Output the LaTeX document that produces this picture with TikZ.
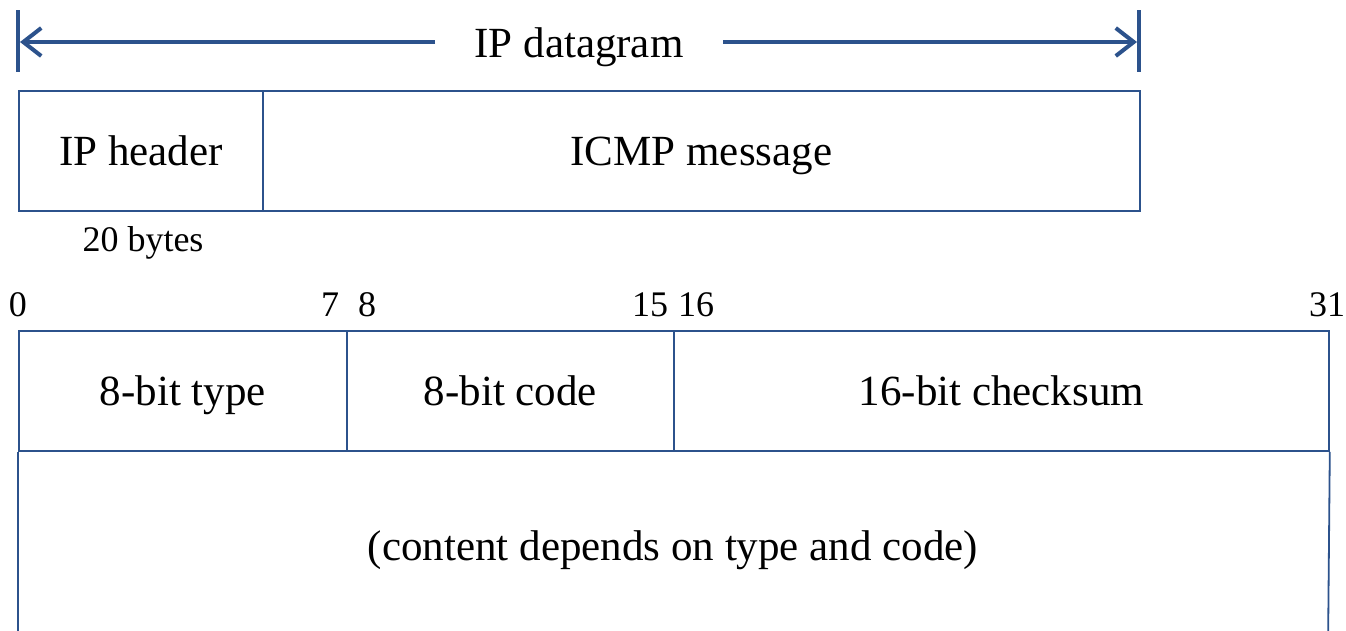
\documentclass[tikz,border=0pt]{standalone}
\usepackage{fontspec}
\setmainfont{Liberation Serif}
\usetikzlibrary{arrows.meta}
\definecolor{lineblue}{RGB}{44,82,140}
\begin{document}
\begin{tikzpicture}[x=1pt,y=-1pt,
  field/.style={draw=lineblue, line width=1.8pt, inner sep=0pt, anchor=north west,
    text height=38pt, text depth=8pt,
    font=\fontsize{43}{50}\selectfont},
  biglabel/.style={inner sep=0pt, font=\fontsize{43}{50}\selectfont},
  smalllabel/.style={inner sep=0pt, anchor=base, font=\fontsize{36}{42}\selectfont},
  bar/.style={draw=lineblue, line width=4pt},
  sideline/.style={draw=lineblue, line width=1.8pt},
  dimarrow/.style={draw=lineblue, line width=4pt, -{Straight Barb[length=18pt,width=28pt,line width=4pt]}}
]
\clip (0,0) rectangle (1346,630);
\fill[white] (0,0) rectangle (1346,630);
% top dimension
\coordinate (lt) at (18,10); \coordinate (lb) at (18,72);
\coordinate (rt) at (1139,10); \coordinate (rb) at (1139,72);
\draw[bar] (lt) -- (lb);
\draw[bar] (rt) -- (rb);
\node[biglabel, anchor=base] (dg) at (579,57) {IP datagram};
\coordinate (la) at (435,42); \coordinate (ra) at (723,42);
\coordinate (L) at (20,42); \coordinate (R) at (1137,42);
\draw[dimarrow] (la) -- (L);
\draw[dimarrow] (ra) -- (R);
% IP datagram boxes
\node[field, minimum width=244pt, minimum height=120pt] (hdr) at (18,90) {IP header};
\node[field, minimum width=877pt, minimum height=120pt] (msg) at (262,90) {ICMP message};
\node[smalllabel] (bytes) at (143,251) {20 bytes};
% bit numbers
\node[smalllabel] (b0) at (18,316) {0};
\node[smalllabel] (b7) at (330,316) {7};
\node[smalllabel] (b8) at (367,316) {8};
\node[smalllabel] (b15) at (650,316) {15};
\node[smalllabel] (b16) at (696,316) {16};
\node[smalllabel] (b31) at (1327,316) {31};
% ICMP header
\node[field, minimum width=328pt, minimum height=120pt] (type) at (18,330) {8-bit type};
\node[field, minimum width=327pt, minimum height=120pt] (code) at (346,330) {8-bit code};
\node[field, minimum width=655pt, minimum height=120pt] (sum) at (673,330) {16-bit checksum};
\coordinate (cl) at (18,650); \coordinate (cr) at (1328,650);
\draw[sideline] (type.south west) -- (cl);
\draw[sideline] (sum.south east) -- (cr);
\node[biglabel] (content) at (673,550) {(content depends on type and code)};
\end{tikzpicture}
\end{document}
